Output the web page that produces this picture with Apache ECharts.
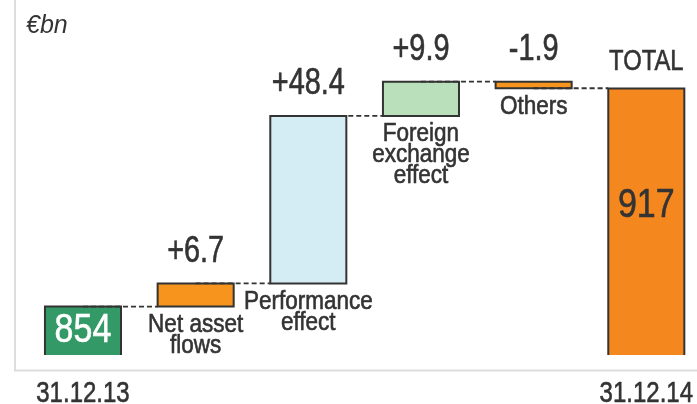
<!DOCTYPE html>
<html>
<head>
<meta charset="utf-8">
<script src="https://cdn.jsdelivr.net/npm/echarts@6/dist/echarts.min.js"></script>
<style>
html, body { margin: 0; padding: 0; background: #fff; }
#chart { width: 697px; height: 404px; }
</style>
</head>
<body>
<div id="chart"></div>
<script>
// data
var categories = ['', 'Net asset\nflows', 'Performance\neffect', 'Foreign\nexchange\neffect', 'Others', 'TOTAL'];
var dateLabels = ['31.12.13', '', '', '', '', '31.12.14'];
var deltas = [854, 6.7, 48.4, 9.9, -1.9, 917];
var valueLabels = ['854', '+6.7', '+48.4', '+9.9', '-1.9', '917'];
var isTotal = [true, false, false, false, false, true];
var barColors = ['#339966', '#F7941D', '#D4ECF3', '#B9DFBB', '#F7941D', '#F5871F'];

// narrow look: Liberation Sans squeezed horizontally
var FONT = "'Liberation Sans', Arial, sans-serif";
var INK = '#333333';
var BAR_RATIO = 0.675;

// floating bars [index, low, high] and connector levels [index, level]
var bars = [];
var steps = [];
var running = 0;
for (var i = 0; i < deltas.length; i++) {
	var low, high;
	if (isTotal[i]) {
		low = 0;
		high = deltas[i];
	} else {
		low = running;
		high = running + deltas[i];
	}
	running = high;
	bars.push([i, low, high]);
	if (i < deltas.length - 1) steps.push([i, running]);
}

function narrowText(x, y, text, size, squeeze, fill, vAlign, lineHeight) {
	fill = fill || INK;
	return {
		type: 'text',
		x: x,
		y: y,
		scaleX: squeeze,
		style: {
			x: 0, y: 0, text: text, align: 'center', verticalAlign: vAlign || 'middle',
			fill: fill, stroke: fill, lineWidth: 0.6,
			font: size + 'px ' + FONT, lineHeight: lineHeight
		}
	};
}

function renderBar(params, api) {
	var i = api.value(0);
	var lo = Math.min(api.value(1), api.value(2));
	var hi = Math.max(api.value(1), api.value(2));
	var pLo = api.coord([i, lo]);
	var pHi = api.coord([i, hi]);
	var w = api.size([1, 0])[0] * BAR_RATIO;
	return {
		type: 'rect',
		shape: { x: pHi[0] - w / 2, y: pHi[1], width: w, height: pLo[1] - pHi[1] },
		style: { fill: barColors[i], stroke: INK, lineWidth: 2 }
	};
}

function renderStep(params, api) {
	var i = api.value(0);
	var v = api.value(1);
	var a = api.coord([i, v]);
	var b = api.coord([i + 1, v]);
	var w = api.size([1, 0])[0] * BAR_RATIO;
	return {
		type: 'line',
		shape: { x1: a[0], y1: a[1], x2: b[0] - w / 2, y2: b[1] },
		style: { stroke: INK, lineWidth: 1.8, lineDash: [5, 3] }
	};
}

function renderLabel(params, api) {
	var i = api.value(0);
	var lo = Math.min(api.value(1), api.value(2));
	var hi = Math.max(api.value(1), api.value(2));
	var x = api.coord([i, hi])[0];
	var top = api.coord([i, hi])[1];
	var cs = params.coordSys;
	var axisY = cs.y + cs.height;
	var bottom = Math.min(api.coord([i, lo])[1], axisY);
	var kids = [];
	if (isTotal[i]) {
		var cy = i === 0 ? (top + bottom) / 2 : top + 117;
		kids.push(narrowText(x, cy, valueLabels[i], 40, 0.85, i === 0 ? '#ffffff' : INK));
		if (categories[i]) kids.push(narrowText(x, top - 27, categories[i], 29, 0.82));
	} else {
		kids.push(narrowText(x, top - 32, valueLabels[i], 37, 0.78));
		kids.push(narrowText(x, bottom + 8, categories[i], 25, 0.9, INK, 'top', 21));
	}
	if (dateLabels[i]) kids.push(narrowText(x, axisY + 39, dateLabels[i], 30, 0.8));
	return { type: 'group', children: kids };
}

var chart = echarts.init(document.getElementById('chart'));
var option = {
	animation: false,
	backgroundColor: '#ffffff',
	// last band runs a little past the right edge of the picture
	grid: { left: 26.65, top: 9, right: 0, height: 346 },
	xAxis: {
		type: 'value',
		min: -0.5,
		max: 5.45,
		show: false
	},
	yAxis: {
		type: 'value',
		min: 840,
		max: 940,
		show: false
	},
	graphic: [
		{ type: 'line', shape: { x1: 15, y1: 0, x2: 15, y2: 371 }, style: { stroke: '#dddddd', lineWidth: 2 } },
		{ type: 'line', shape: { x1: 14, y1: 370.5, x2: 697, y2: 370.5 }, style: { stroke: '#dddddd', lineWidth: 2 } },
		{ type: 'text', left: 26, top: 14, style: { text: '€bn', fill: INK, font: 'italic 25px "Liberation Sans", Arial, sans-serif' } }
	],
	series: [
		{ type: 'custom', name: 'bars', data: bars, renderItem: renderBar, clip: true, z: 2 },
		{ type: 'custom', name: 'steps', data: steps, renderItem: renderStep, clip: false, z: 3 },
		{ type: 'custom', name: 'labels', data: bars, renderItem: renderLabel, clip: false, z: 4 }
	]
};
chart.setOption(option);
</script>
</body>
</html>
